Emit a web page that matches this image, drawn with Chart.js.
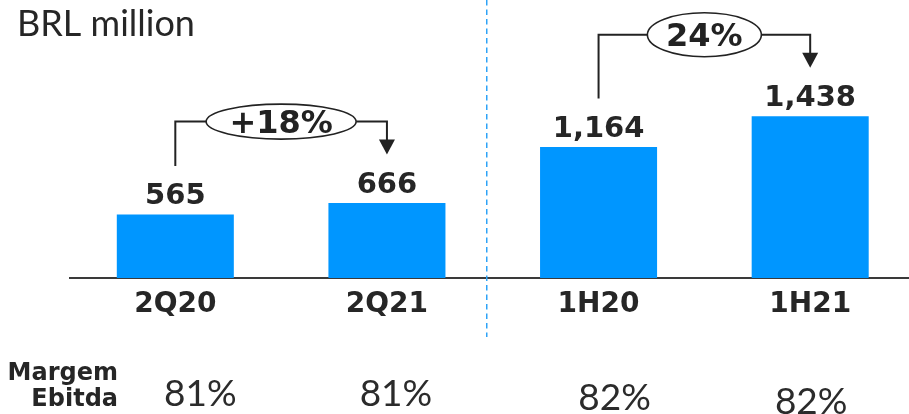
<!DOCTYPE html>
<html>
<head>
<meta charset="utf-8">
<script src="https://cdn.jsdelivr.net/npm/chart.js@4"></script>
<style>
  html, body { margin: 0; padding: 0; background: #fff; overflow: hidden; }
  #wrap { position: relative; width: 916px; height: 414px; }
</style>
</head>
<body>
<div id="wrap"><canvas id="c"></canvas></div>
<script>
// EBITDA, BRL million
const categories = ['2Q20', '2Q21', '1H20', '1H21'];
const ebitda = [565, 666, 1164, 1438];
const margins = ['81%', '81%', '82%', '82%'];
const growthPairs = [[0, 1], [2, 3]];
const growthLabels = ['+18%', '24%'];
const unitLabel = 'BRL million';
const marginTitle = ['Margem', 'Ebitda'];

// presentation
const BAR_BLUE = '#0096ff';
const INK = '#262626';
const BOLD = '"DejaVu Sans", Verdana, sans-serif';
const LIGHT = 'Lato, "Open Sans", sans-serif';
const bubbleRadii = [[75, 17.5], [57, 22]];
const marginNudge = [[25, 0], [9, 0], [16, 4], [1, 8]];

const overlay = {
  id: 'overlay',
  afterDatasetsDraw(chart) {
    const ctx = chart.ctx;
    const meta = chart.getDatasetMeta(0);
    const bars = meta.data;
    const labelGap = 10, capH = 23.5;
    const labelTop = bars.map(b => b.y - labelGap - capH);

    ctx.save();
    // value labels
    ctx.fillStyle = INK;
    ctx.font = 'bold 29px ' + BOLD;
    ctx.textAlign = 'center';
    ctx.textBaseline = 'alphabetic';
    bars.forEach((b, i) => {
      ctx.fillText(ebitda[i].toLocaleString('en-US'), b.x, b.y - labelGap);
    });

    // separator between quarter and half-year blocks
    const xs = chart.scales.x;
    const sepX = (xs.getPixelForValue(1) + xs.getPixelForValue(2)) / 2 - 6;
    ctx.strokeStyle = '#2ea3f7';
    ctx.lineWidth = 1.5;
    ctx.setLineDash([5.5, 4]);
    ctx.beginPath();
    ctx.moveTo(sepX, 0);
    ctx.lineTo(sepX, 337);
    ctx.stroke();
    ctx.setLineDash([]);

    // growth brackets
    ctx.strokeStyle = '#222';
    ctx.fillStyle = '#222';
    ctx.lineWidth = 2;
    growthPairs.forEach(([a, b], k) => {
      const xa = bars[a].x, xb = bars[b].x;
      const hy = Math.min(labelTop[a], labelTop[b]) - 48;
      const cx = (xa + xb) / 2;
      const [rx, ry] = bubbleRadii[k];
      const tip = labelTop[b] - 15;
      ctx.beginPath();
      ctx.moveTo(xa, labelTop[a] - 15);
      ctx.lineTo(xa, hy);
      ctx.lineTo(cx - rx, hy);
      ctx.moveTo(cx + rx, hy);
      ctx.lineTo(xb, hy);
      ctx.lineTo(xb, tip - 14);
      ctx.stroke();
      ctx.beginPath();
      ctx.moveTo(xb - 8, tip - 15);
      ctx.lineTo(xb + 8, tip - 15);
      ctx.lineTo(xb, tip);
      ctx.closePath();
      ctx.fill();
      ctx.lineWidth = 1.6;
      ctx.beginPath();
      ctx.ellipse(cx, hy, rx, ry, 0, 0, Math.PI * 2);
      ctx.fillStyle = '#fff';
      ctx.fill();
      ctx.stroke();
      ctx.lineWidth = 2;
      ctx.fillStyle = '#222';
      ctx.font = 'bold 32px ' + BOLD;
      ctx.textAlign = 'center';
      ctx.fillText(growthLabels[k], cx, hy + 11);
    });

    // unit label
    ctx.fillStyle = '#262626';
    ctx.font = '36px ' + LIGHT;
    ctx.textAlign = 'left';
    ctx.fillText(unitLabel, 17, 36);

    // margin row
    ctx.fillStyle = INK;
    ctx.font = 'bold 24px ' + BOLD;
    ctx.textAlign = 'right';
    ctx.fillText(marginTitle[0], 118, 380);
    ctx.fillText(marginTitle[1], 118, 406);
    ctx.fillStyle = '#2b2b2b';
    ctx.font = '37px ' + LIGHT;
    ctx.textAlign = 'center';
    bars.forEach((b, i) => {
      ctx.fillText(margins[i], b.x + marginNudge[i][0], 406 + marginNudge[i][1]);
    });
    ctx.restore();
  }
};

new Chart(document.getElementById('c'), {
  type: 'bar',
  data: {
    labels: categories,
    datasets: [{
      data: ebitda,
      backgroundColor: BAR_BLUE,
      borderWidth: 0,
      categoryPercentage: 1,
      barPercentage: 0.553
    }]
  },
  options: {
    responsive: true,
    maintainAspectRatio: false,
    animation: false,
    events: [],
    layout: { padding: { left: 69.5, right: 0, top: 0, bottom: 82.4 } },
    plugins: { legend: { display: false }, tooltip: { enabled: false }, title: { display: false } },
    scales: {
      x: {
        grid: { display: false, drawTicks: false },
        border: { display: true, color: '#3a3a3a', width: 2 },
        ticks: { color: INK, padding: 10, font: { family: BOLD, size: 28, weight: 'bold' } }
      },
      y: { display: false, min: 0, max: 2472 }
    }
  },
  plugins: [overlay]
});
</script>
</body>
</html>
